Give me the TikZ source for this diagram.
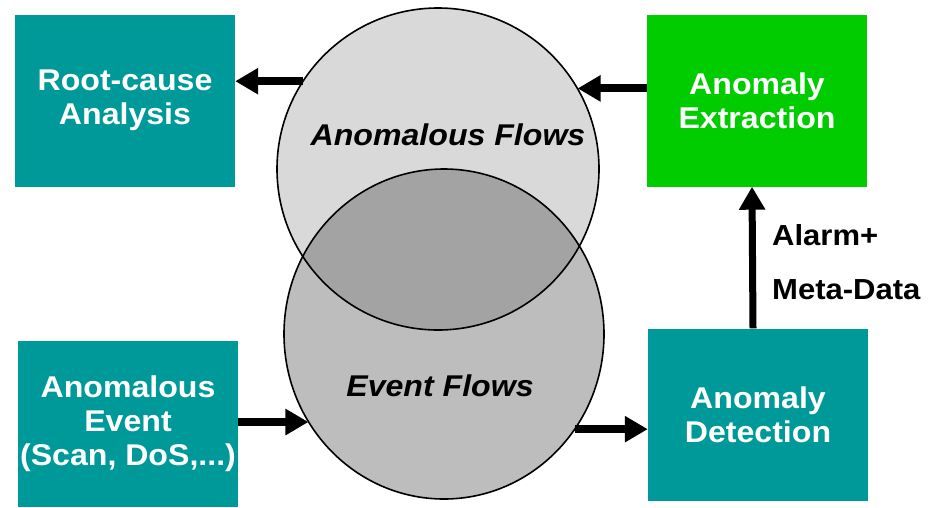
\documentclass[tikz,border=0pt]{standalone}
\usepackage{fontspec}
\setmainfont[FakeStretch=1.07]{Liberation Sans}
\usetikzlibrary{arrows.meta,shapes.geometric}
\definecolor{tealbg}{HTML}{009999}
\definecolor{greenbg}{HTML}{00CC00}

\begin{document}
\begin{tikzpicture}[x=1pt,y=-1pt,
  box/.style={align=center,text=white,font=\fontsize{30}{34}\selectfont\bfseries,inner sep=0pt,minimum width=220,minimum height=172},
  flowtxt/.style={font=\fontsize{30}{34}\selectfont\bfseries\itshape},
  lbl/.style={anchor=west,font=\fontsize{29}{33}\selectfont\bfseries,inner sep=0pt},
  arr/.style={-{Triangle[length=23pt,width=25pt]},line width=8pt}]
\useasboundingbox (0,0) rectangle (932,507);
% flow sets
\node[circle,fill=black!15,minimum size=322,inner sep=0pt](afl) at (438,169){};
\node[ellipse,fill=black!26,minimum width=320,minimum height=330,inner sep=0pt](efl) at (444,334){};
\begin{scope}
\clip (afl.center) circle[radius=161];
\fill[black!36] (efl.center) ellipse[x radius=160,y radius=165];
\end{scope}
\draw[line width=1.6pt] (afl.center) circle[radius=161];
\draw[line width=1.6pt] (efl.center) ellipse[x radius=160,y radius=165];
\node[flowtxt](afltxt) at (448,135){Anomalous Flows};
\node[flowtxt](efltxt) at (440,386){Event Flows};
% boxes
\node[box,fill=tealbg](rca) at (125,100.5){Root-cause\\Analysis};
\node[box,fill=greenbg](ext) at (757,100.5){Anomaly\\Extraction};
\node[box,fill=tealbg,minimum height=166](evt) at (128,424){Anomalous\\Event\\(Scan, DoS,...)};
\node[box,fill=tealbg](det) at (758,414.5){Anomaly\\Detection};
\node[lbl](alarm) at (772,235){Alarm+};
\node[lbl](meta) at (772,290){Meta-Data};
% arrows
\draw[arr](afl.147)--(afl.147 -| rca.east);
\draw[arr](afl.30 -| ext.west)--(afl.30);
\draw[arr](evt.east |- efl.213)--(efl.213);
\draw[arr](efl.-36)--(efl.-36 -| det.west);
\draw[arr,line width=7pt]([xshift=-5pt]det.north)--([xshift=-5pt]ext.south);
\end{tikzpicture}
\end{document}
